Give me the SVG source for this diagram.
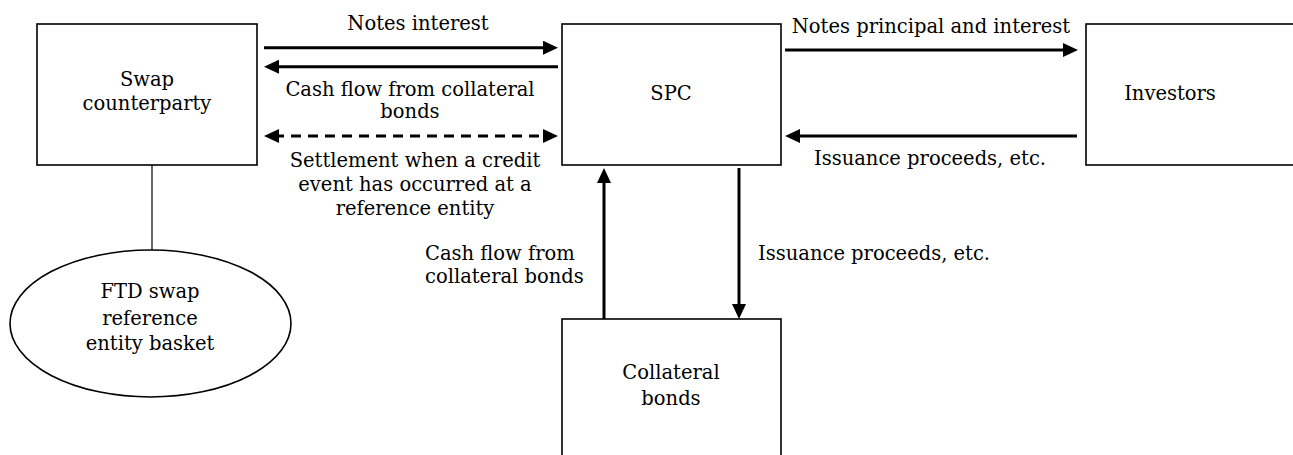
<svg xmlns="http://www.w3.org/2000/svg" width="1293" height="455" viewBox="0 0 1293 455">
<style>
.box{fill:#fff;stroke:#000;stroke-width:1.6}
.t{font-family:"DejaVu Serif","Liberation Serif",serif;font-size:19.5px;fill:#000;text-anchor:middle}
.l{font-family:"DejaVu Serif","Liberation Serif",serif;font-size:19.5px;fill:#000}
.c{stroke:#000;stroke-width:3;fill:none}
.d{stroke-dasharray:10 7}
.thin{stroke:#000;stroke-width:1.2;fill:none}
</style>
<defs>
<marker id="arr" markerUnits="userSpaceOnUse" markerWidth="15" markerHeight="14" viewBox="0 0 15 14" refX="5" refY="7" orient="auto-start-reverse">
<path d="M0,0 L15,7 L0,14 z" fill="#000"/>
</marker>
</defs>
<rect width="1293" height="455" fill="#fff"/>
<g id="swap">
<rect class="box" x="37" y="24" width="220" height="141"/>
<text class="t" x="147" y="86">Swap</text>
<text class="t" x="147" y="110">counterparty</text>
</g>
<g id="spc">
<rect class="box" x="562" y="24" width="219" height="141"/>
<text class="t" x="671" y="100">SPC</text>
</g>
<g id="investors">
<rect class="box" x="1086" y="24" width="240" height="141"/>
<text class="t" x="1170" y="100">Investors</text>
</g>
<g id="collateral">
<rect class="box" x="562" y="319" width="219" height="160"/>
<text class="t" x="671" y="379">Collateral</text>
<text class="t" x="671" y="405">bonds</text>
</g>
<g id="basket">
<ellipse class="box" cx="150.5" cy="323.5" rx="140.5" ry="73.5"/>
<text class="t" x="150" y="298">FTD swap</text>
<text class="t" x="150" y="325">reference</text>
<text class="t" x="150" y="350">entity basket</text>
</g>
<g id="connectors">
<line class="thin" x1="152" y1="165" x2="152" y2="250"/>
<line class="c" x1="264" y1="47.7" x2="548" y2="47.7" marker-end="url(#arr)"/>
<line class="c" x1="558" y1="66.7" x2="274" y2="66.7" marker-end="url(#arr)"/>
<line class="c d" x1="274" y1="136" x2="548" y2="136" marker-start="url(#arr)" marker-end="url(#arr)"/>
<line class="c" x1="785" y1="50" x2="1068" y2="50" marker-end="url(#arr)"/>
<line class="c" x1="1077" y1="136" x2="795" y2="136" marker-end="url(#arr)"/>
<line class="c" x1="604" y1="319" x2="604" y2="178" marker-end="url(#arr)"/>
<line class="c" x1="739" y1="168" x2="739" y2="309" marker-end="url(#arr)"/>
</g>
<g id="labels">
<text class="t" x="418" y="30">Notes interest</text>
<text class="t" x="410" y="96">Cash flow from collateral</text>
<text class="t" x="410" y="118">bonds</text>
<text class="t" x="415" y="167">Settlement when a credit</text>
<text class="t" x="415" y="191">event has occurred at a</text>
<text class="t" x="415" y="215">reference entity</text>
<text class="t" x="931" y="33">Notes principal and interest</text>
<text class="t" x="930" y="165">Issuance proceeds, etc.</text>
<text class="l" x="425" y="260">Cash flow from</text>
<text class="l" x="425" y="283">collateral bonds</text>
<text class="l" x="758" y="260">Issuance proceeds, etc.</text>
</g>
</svg>
